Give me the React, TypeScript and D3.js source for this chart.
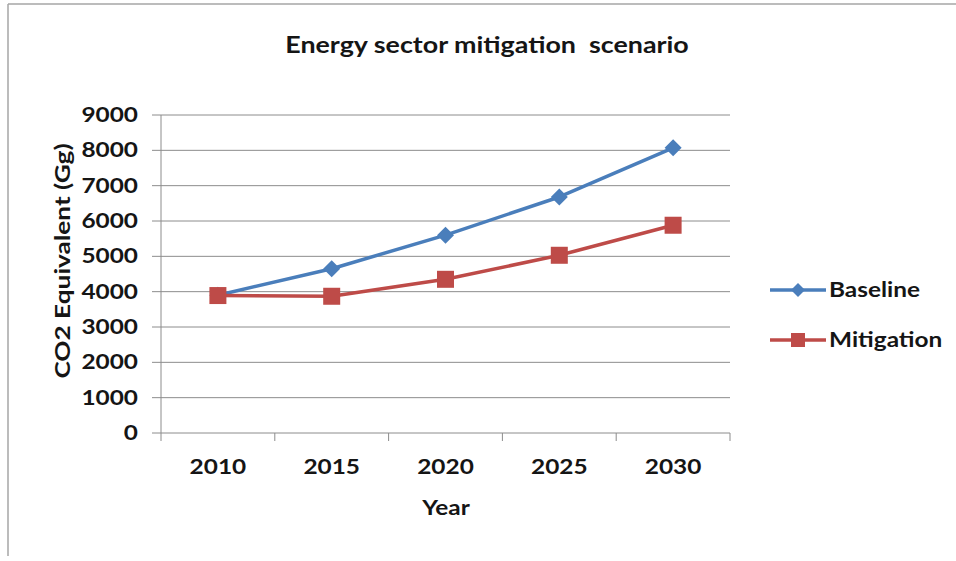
import React, { useEffect } from "react";
import * as d3 from "d3";

// Years on the category axis
const years = ["2010", "2015", "2020", "2025", "2030"];
// CO2 equivalent emissions (Gg) per scenario
const baseline = [3900, 4650, 5600, 6680, 8070];
const mitigation = [3890, 3870, 4350, 5030, 5880];
// Value axis ticks
const yTicks = [0, 1000, 2000, 3000, 4000, 5000, 6000, 7000, 8000, 9000];

const W = 956;
const H = 561;
const FONT = "Lato, 'DejaVu Sans', sans-serif";
const STRETCH = 1.22; // wide, Calibri-like lettering
const BLUE = "#4A7EBB";
const RED = "#BE4B48";
const GRID = "#8c8c8c";

type TProps = {
  x: number;
  y: number;
  size: number;
  anchor?: "start" | "middle" | "end";
  rotate?: number;
  children: React.ReactNode;
};

// Text drawn with a horizontal stretch around its anchor point
function T({ x, y, size, anchor = "start", rotate = 0, children }: TProps) {
  return (
    <text
      transform={`translate(${x},${y}) rotate(${rotate}) scale(${STRETCH},1)`}
      textAnchor={anchor}
      fontFamily={FONT}
      fontWeight={700}
      fontSize={size}
      fill="#151515"
      style={{ whiteSpace: "pre" }}
    >
      {children}
    </text>
  );
}

export default function App() {
  useEffect(() => {
    document.body.style.margin = "0";
  }, []);

  const x = d3.scaleBand<string>().domain(years).range([161, 730]).padding(0);
  const y = d3.scaleLinear().domain([0, 9000]).range([433, 115]);
  const cx = (yr: string) => (x(yr) ?? 0) + x.bandwidth() / 2;

  const line = d3
    .line<number>()
    .x((_, i) => cx(years[i]))
    .y((v) => y(v));

  const diamond = (px: number, py: number, r: number) =>
    `M${px},${py - r}L${px + r},${py}L${px},${py + r}L${px - r},${py}Z`;

  const catEdges = years.map((yr) => x(yr) ?? 0).concat([730]);

  return (
    <svg width={W} height={H} style={{ display: "block", background: "#fff" }}>
      {/* chart frame */}
      <line x1={8} y1={4} x2={W} y2={4} stroke="#a6a6a6" strokeWidth={1.5} />
      <line x1={8} y1={4} x2={8} y2={556} stroke="#a6a6a6" strokeWidth={1.5} />

      <T x={487} y={53} size={22} anchor="middle">
        Energy sector mitigation  scenario
      </T>

      {/* horizontal gridlines and value ticks */}
      {yTicks.map((t) => (
        <g key={t}>
          <line x1={152} x2={730} y1={y(t)} y2={y(t)} stroke={GRID} strokeWidth={1} />
          <T x={138} y={y(t) + 7} size={20} anchor="end">
            {t}
          </T>
        </g>
      ))}

      {/* value axis */}
      <line x1={161} x2={161} y1={115} y2={433} stroke={GRID} strokeWidth={1} />

      {/* category axis ticks */}
      {catEdges.map((e, i) => (
        <line key={i} x1={e} x2={e} y1={433} y2={441} stroke={GRID} strokeWidth={1} />
      ))}
      {years.map((yr) => (
        <T key={yr} x={cx(yr)} y={474} size={20} anchor="middle">
          {yr}
        </T>
      ))}

      <T x={446} y={515} size={20} anchor="middle">
        Year
      </T>
      <T x={70} y={261} size={21.5} anchor="middle" rotate={-90}>
        CO2 Equivalent (Gg)
      </T>

      {/* series */}
      <path d={line(baseline) ?? ""} fill="none" stroke={BLUE} strokeWidth={3.5} strokeLinejoin="round" />
      {baseline.map((v, i) => (
        <path key={i} d={diamond(cx(years[i]), y(v), 8.5)} fill={BLUE} />
      ))}
      <path d={line(mitigation) ?? ""} fill="none" stroke={RED} strokeWidth={3.5} strokeLinejoin="round" />
      {mitigation.map((v, i) => (
        <rect key={i} x={cx(years[i]) - 8.5} y={y(v) - 8.5} width={17} height={17} fill={RED} />
      ))}

      {/* legend */}
      <g>
        <line x1={770} x2={826} y1={290} y2={290} stroke={BLUE} strokeWidth={3.5} />
        <path d={diamond(798, 290, 7)} fill={BLUE} />
        <T x={829} y={297} size={20}>
          Baseline
        </T>
        <line x1={770} x2={826} y1={340} y2={340} stroke={RED} strokeWidth={3.5} />
        <rect x={791} y={333} width={14} height={14} fill={RED} />
        <T x={829} y={347} size={20}>
          Mitigation
        </T>
      </g>
    </svg>
  );
}
